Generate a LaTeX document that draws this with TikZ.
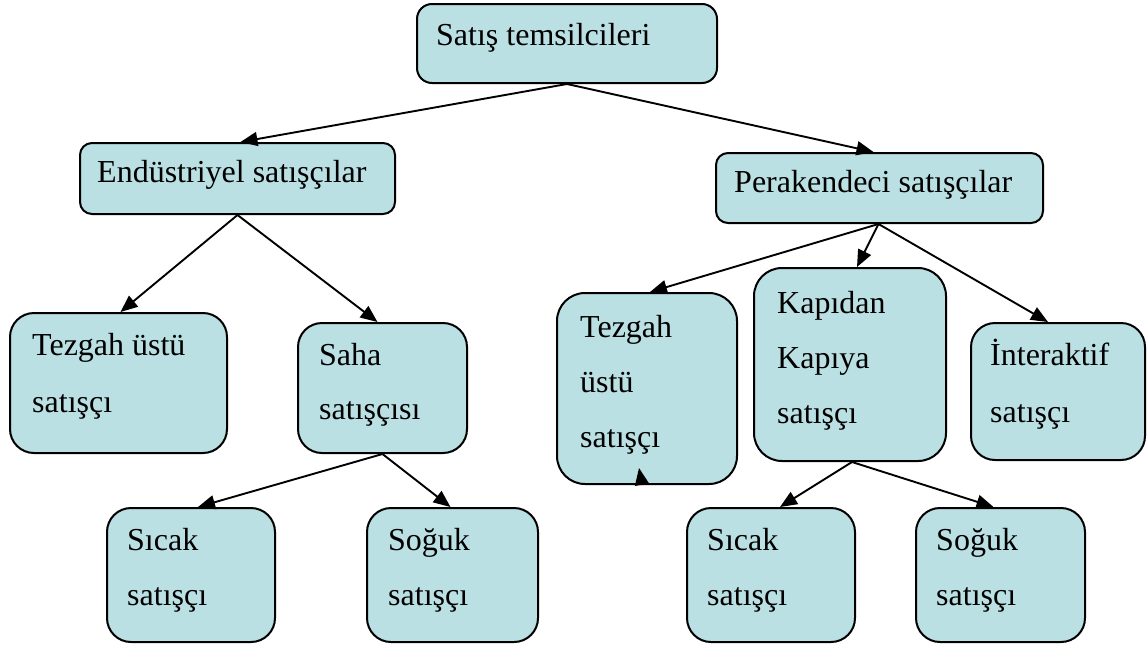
\documentclass[tikz,border=0pt]{standalone}
\usepackage{fontspec}
\setmainfont{Liberation Serif}
\usetikzlibrary{arrows.meta}
\definecolor{boxfill}{RGB}{186,224,227}
\begin{document}
\begin{tikzpicture}[x=1pt,y=-1pt,
  box/.style={draw=black, line width=2pt, fill=boxfill, rounded corners=#1, inner sep=0pt},
  box/.default=14pt,
  lbl/.style={anchor=base west, inner sep=0pt, font=\fontsize{32}{38}\selectfont},
  link/.style={line width=1.9pt, -{Triangle[length=17pt,width=14pt]}}]
\useasboundingbox (0,0) rectangle (1147,646);

% boxes: level 0 and 1
\node[box=15pt, minimum width=300pt, minimum height=79pt] (top) at (567,43.5) {};
\node[box=12pt, minimum width=315pt, minimum height=71pt] (ind) at (237.5,178.5) {};
\node[box=12pt, minimum width=327pt, minimum height=70pt] (ret) at (879.5,188) {};

% industrial branch
\node[box=24pt, minimum width=217pt, minimum height=140pt] (tezL) at (118.5,383) {};
\node[box=24pt, minimum width=169pt, minimum height=130pt] (saha) at (382.5,388) {};
\node[box=24pt, minimum width=168pt, minimum height=134pt] (sicL) at (191,575) {};
\node[box=24pt, minimum width=171pt, minimum height=134pt] (sogL) at (452.5,575) {};

% retail branch
\node[box=28pt, minimum width=180pt, minimum height=191pt] (tezR) at (647,388.5) {};
\node[box=28pt, minimum width=192pt, minimum height=193pt] (kap) at (850,364.5) {};
\node[box=24pt, minimum width=174pt, minimum height=137pt] (inter) at (1058,391.5) {};
\node[box=24pt, minimum width=168pt, minimum height=134pt] (sicR) at (771,575) {};
\node[box=24pt, minimum width=169pt, minimum height=134pt] (sogR) at (1000.5,575) {};

% texts
\node[lbl] (ttop) at (436,45) {Satış temsilcileri};
\node[lbl] (tind) at (97,182) {Endüstriyel satışçılar};
\node[lbl] (tret) at (734,192) {Perakendeci satışçılar};

\node[lbl] (ttezL1) at (32,355) {Tezgah üstü};
\node[lbl] (ttezL2) at (32,412) {satışçı};
\node[lbl] (tsaha1) at (319,365) {Saha};
\node[lbl] (tsaha2) at (319,419) {satışçısı};
\node[lbl] (tsicL1) at (127,550) {Sıcak};
\node[lbl] (tsicL2) at (127,605) {satışçı};
\node[lbl] (tsogL1) at (388,550) {Soğuk};
\node[lbl] (tsogL2) at (388,605) {satışçı};

\node[lbl] (ttezR1) at (580,337) {Tezgah};
\node[lbl] (ttezR2) at (580,392) {üstü};
\node[lbl] (ttezR3) at (580,447) {satışçı};
\node[lbl] (tkap1) at (777,313) {Kapıdan};
\node[lbl] (tkap2) at (777,368) {Kapıya};
\node[lbl] (tkap3) at (777,423) {satışçı};
\node[lbl] (tint1) at (990,365) {İnteraktif};
\node[lbl] (tint2) at (990,422) {satışçı};
\node[lbl] (tsicR1) at (707,550) {Sıcak};
\node[lbl] (tsicR2) at (707,605) {satışçı};
\node[lbl] (tsogR1) at (936,550) {Soğuk};
\node[lbl] (tsogR2) at (936,605) {satışçı};

% connectors
\draw[link] (top.south) -- ([xshift=3pt]ind.north);
\draw[link] (top.south) -- ([xshift=-6pt]ret.north);
\draw[link] (ind.south) -- ([xshift=2pt]tezL.north);
\draw[link] (ind.south) -- ([xshift=-5pt]saha.north);
\draw[link] (saha.south) -- ([xshift=7pt]sicL.north);
\draw[link] (saha.south) -- ([xshift=-2pt]sogL.north);
\draw[link] ([xshift=-1pt]ret.south) -- ([xshift=3pt]tezR.north);
\draw[link] ([xshift=-1pt]ret.south) -- ([xshift=7pt]kap.north);
\draw[link] ([xshift=-1pt]ret.south) -- ([xshift=-10pt]inter.north);
\draw[link] ([xshift=2pt]kap.south) -- ([xshift=9pt]sicR.north);
\draw[link] ([xshift=2pt]kap.south) -- ([xshift=-7pt]sogR.north);

% short arrow stub on the lower edge of the right counter box
\coordinate (stub) at ([xshift=-5pt]tezR.south);
\draw[link] (stub) -- ++(-3,-17);
\end{tikzpicture}
\end{document}
